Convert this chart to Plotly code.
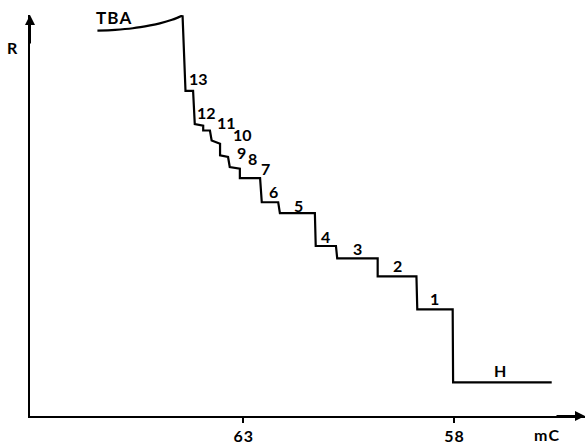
import plotly.graph_objects as go

# Charge passed (mC) and resistance R (arbitrary units) during the titration
tba_mc = [66.46, 66.04, 65.62, 65.21, 64.98, 64.69, 64.44]
tba_r = [96.1, 96.3, 96.7, 97.4, 97.9, 98.8, 99.9]

step_mc = [64.44, 64.37, 64.19, 64.15, 63.95, 63.95, 63.79, 63.75, 63.55, 63.55,
           63.36, 63.32, 63.08, 63.08, 62.60, 62.56, 62.17, 62.13, 61.30, 61.28,
           60.80, 60.77, 59.81, 59.81, 58.89, 58.87, 58.03, 58.02, 55.68]
step_r = [99.9, 81.1, 81.1, 72.8, 72.4, 71.2, 71.2, 68.7, 67.9, 65.0,
          64.6, 62.1, 61.7, 59.3, 59.3, 53.3, 53.3, 50.6, 50.6, 42.4,
          42.4, 39.3, 39.3, 34.8, 34.8, 26.6, 26.6, 8.4, 8.4]

# Step numbers and where each label sits
step_names = ["13", "12", "11", "10", "9", "8", "7", "6", "5", "4", "3", "2", "1", "H"]
label_mc = [64.05, 63.86, 63.39, 63.01, 63.04, 62.77, 62.46, 62.29, 61.70, 61.04,
            60.28, 59.33, 58.45, 56.91]
label_r = [84.2, 75.8, 73.3, 70.3, 65.8, 64.2, 61.7, 56.0, 52.6, 44.7,
           41.7, 37.5, 29.4, 11.4]

tick_vals = [63, 58]
tick_text = ["63", "58"]

FONT = dict(family="Lato, 'Open Sans', sans-serif", size=16, color="black", weight="bold")
WIDE = "\u200a"  # hair space for letter-spaced captions

W, H = 586, 446
ML, MR, MT, MB = 30, 1, 15, 26
PW, PH = W - ML - MR, H - MT - MB


def paper_xy(px, py):
    return (px - ML) / PW, (H - MB - py) / PH


fig = go.Figure()
fig.add_trace(go.Scatter(x=tba_mc, y=tba_r, mode="lines",
                         line=dict(color="black", width=2.2, shape="spline"), hoverinfo="skip"))
fig.add_trace(go.Scatter(x=step_mc, y=step_r, mode="lines",
                         line=dict(color="black", width=2.2), hoverinfo="skip"))

for name, mx, ry in zip(step_names, label_mc, label_r):
    fig.add_annotation(x=mx, y=ry, text=name, showarrow=False, font=FONT,
                       xanchor="center", yanchor="middle")

fig.add_annotation(x=66.07, y=99.5, text=WIDE.join("TBA"), showarrow=False,
                   font=dict(FONT, size=17), xanchor="center", yanchor="middle")

# axis arrowheads
fig.add_annotation(x=1, y=0, xref="paper", yref="paper", ax=-30, ay=0, text="",
                   showarrow=True, arrowhead=2, arrowsize=1, arrowwidth=2, arrowcolor="black")
fig.add_annotation(x=0, y=1, xref="paper", yref="paper", ax=0, ay=30, text="",
                   showarrow=True, arrowhead=2, arrowsize=1, arrowwidth=2, arrowcolor="black")

# axis names
mx_, my_ = paper_xy(546, 439)
fig.add_annotation(x=mx_, y=my_, xref="paper", yref="paper", text=WIDE.join("mC"),
                   showarrow=False, font=FONT, xanchor="center", yanchor="middle")
rx_, ry_ = paper_xy(12, 48)
fig.add_annotation(x=rx_, y=ry_, xref="paper", yref="paper", text="R",
                   showarrow=False, font=FONT, xanchor="center", yanchor="middle")

fig.update_layout(
    width=W, height=H,
    margin=dict(l=ML, r=MR, t=MT, b=MB),
    paper_bgcolor="white", plot_bgcolor="white",
    showlegend=False,
)
fig.update_xaxes(range=[68.06, 54.89], showgrid=False, zeroline=False, showline=True,
                 linecolor="black", linewidth=2, ticks="outside", ticklen=5, tickwidth=1.5,
                 tickcolor="black", tickvals=tick_vals, ticktext=[WIDE.join(t) for t in tick_text],
                 tickfont=FONT)
fig.update_yaxes(range=[0, 100], showgrid=False, zeroline=False, showline=True,
                 linecolor="black", linewidth=2, showticklabels=False, ticks="")

fig.write_html("out.html")
